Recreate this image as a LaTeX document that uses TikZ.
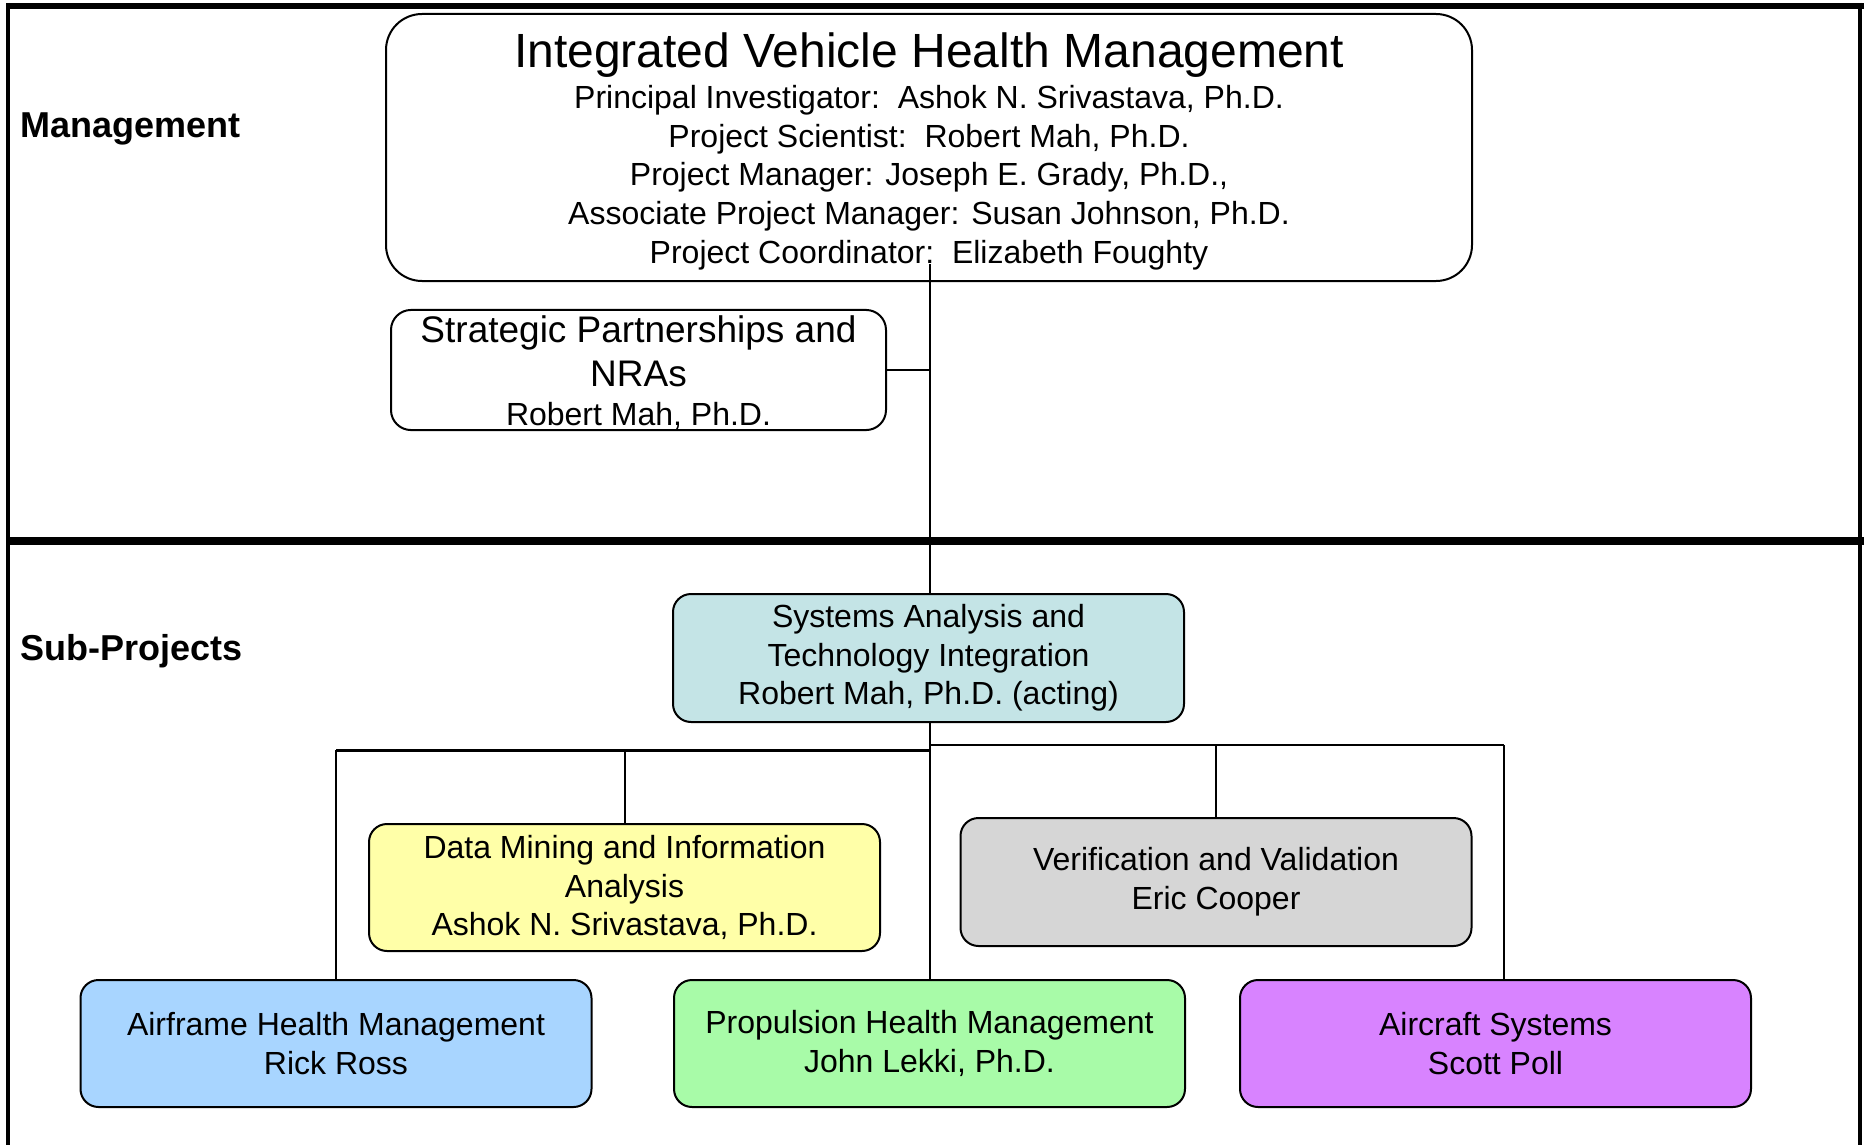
\documentclass[tikz,border=0pt]{standalone}
\usepackage{fontspec}
\setmainfont{Liberation Sans}
\definecolor{cteal}{HTML}{C4E4E6}
\definecolor{cyellow}{HTML}{FFFFA8}
\definecolor{cgrey}{HTML}{D6D6D6}
\definecolor{cblue}{HTML}{A8D5FF}
\definecolor{cgreen}{HTML}{A8FBA8}
\definecolor{cpurple}{HTML}{D883FF}
\tikzset{
  orgbox/.style={draw, line width=2pt, rounded corners=18pt, align=center, inner sep=0pt,
    font=\fontsize{32}{38.6}\selectfont},
  subbox/.style={orgbox, minimum width=511pt, minimum height=127pt},
  link/.style={line width=2pt},
  seclabel/.style={anchor=west, font=\bfseries\fontsize{36}{40}\selectfont}
}
\begin{document}
\begin{tikzpicture}[x=1pt,y=-1pt]
\useasboundingbox (0,0) rectangle (1864,1145);
% frame
\draw[line width=6pt] (6,6) -- (1864,6);
\draw[line width=4pt] (8,3) -- (8,1145);
\draw[line width=4pt] (1860,3) -- (1860,1145);
\draw[line width=8pt] (6,541) -- (1864,541);
% section labels
\node[seclabel] (lman) at (17,129) {Management};
\node[seclabel] (lsub) at (17,651) {Sub-Projects};
% boxes
\node[orgbox, rounded corners=36pt, minimum width=1086pt, minimum height=267pt] (top) at (929,147.5)
  {\rule{0pt}{42pt}{\fontsize{48}{50}\selectfont Integrated Vehicle Health Management}\\[3pt]
   Principal Investigator:\ \ Ashok N. Srivastava, Ph.D.\\
   Project Scientist:\ \ Robert Mah, Ph.D.\\
   Project Manager: Joseph E. Grady, Ph.D.,\\
   Associate Project Manager: Susan Johnson, Ph.D.\\
   Project Coordinator:\ \ Elizabeth Foughty};
\node[orgbox, rounded corners=20pt, minimum width=495pt, minimum height=120pt,
  font=\fontsize{37}{44}\selectfont] (spn) at (638.5,370)
  {\rule{0pt}{33pt}Strategic Partnerships and\\NRAs\\[-5pt]{\fontsize{32}{38}\selectfont Robert Mah, Ph.D.}};
\node[subbox, minimum height=128pt, fill=cteal] (sys) at (928.5,658)
  {Systems Analysis and\\Technology Integration\\Robert Mah, Ph.D. (acting)};
\node[subbox, fill=cyellow] (dm) at (624.5,887.5)
  {Data Mining and Information\\Analysis\\Ashok N. Srivastava, Ph.D.};
\node[subbox, minimum height=128pt, fill=cgrey] (vv) at (1216,882)
  {Verification and Validation\\Eric Cooper};
\node[subbox, fill=cblue] (af) at (336,1043.5)
  {Airframe Health Management\\Rick Ross};
\node[subbox, fill=cgreen] (ph) at (929.5,1043.5)
  {Propulsion Health Management\\John Lekki, Ph.D.};
\node[subbox, fill=cpurple] (ac) at (1495.5,1043.5)
  {Aircraft Systems\\Scott Poll};
% connectors
\coordinate (tr) at (930,264);
\draw[link] (tr) -- (tr |- sys.north);
\draw[link] (spn.east) -- (spn.east -| tr);
\coordinate (jl) at (336,750);
\coordinate (jm) at (930,750);
\coordinate (jr) at (1504,745);
\coordinate (jc) at (930,745);
\draw[link] (jc |- sys.south) -- (jm);
\draw[line width=3pt] (jl) -- (jm);
\draw[link] (jc) -- (jr);
\draw[link] (jl) -- (af.north);
\draw[link] (jl -| dm.north) -- (dm.north);
\draw[link] (jm) -- (jm |- ph.north);
\draw[link] (jc -| vv.north) -- (vv.north);
\draw[link] (jr) -- (jr |- ac.north);
\end{tikzpicture}
\end{document}
